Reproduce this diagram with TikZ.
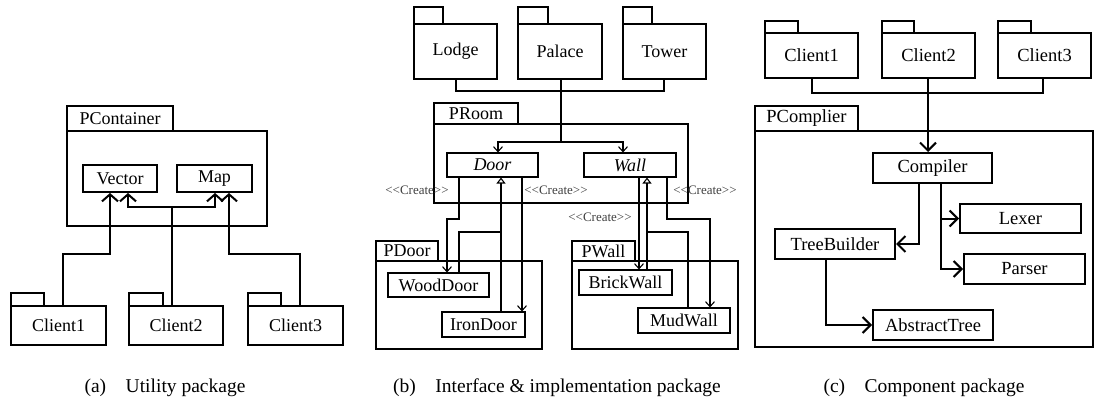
\documentclass[tikz,border=0pt]{standalone}
\usepackage{fontspec}
\setmainfont{Liberation Serif}
\usetikzlibrary{arrows.meta}
\newcommand\rbox[7][]{\node[#1, minimum width={#5-#3}, minimum height={#6-#4}] (#2) at ({(#3+#5)/2},{(#4+#6)/2}) {#7};}
\begin{document}
\begin{tikzpicture}[x=1pt,y=-1pt,
  abox/.style={draw, line width=2pt, inner sep=0pt, font=\fontsize{18}{20}\selectfont},
  bbox/.style={draw, line width=1.1pt, inner sep=0pt, font=\fontsize{18}{20}\selectfont},
  cbox/.style={draw, line width=2pt, inner sep=0pt, font=\fontsize{18.5}{20}\selectfont},
  athick/.style={line width=2pt},
  aarr/.style={line width=2pt, -{Straight Barb[length=7pt,width=16pt]}},
  bline/.style={line width=1.1pt},
  barr/.style={line width=1.1pt, -{Straight Barb[length=5pt,width=9pt]}},
  bgen/.style={line width=1.1pt, -{Triangle[open,length=6pt,width=9pt]}},
  carr/.style={line width=2pt, -{Straight Barb[length=8pt,width=16pt]}},
  create/.style={inner sep=0pt, text=black!75, font=\fontsize{13}{14}\selectfont},
  captext/.style={inner sep=0pt, anchor=base, font=\fontsize{19.5}{22}\selectfont}
]
\useasboundingbox (0,0) rectangle (1095,401);
% ---------------- (a) ----------------
\rbox[abox]{pcTab}{67}{106}{173}{131}{PContainer}
\rbox[abox]{pc}{67}{131}{267}{226}{}
\rbox[abox]{vector}{83}{165}{157}{192}{Vector}
\rbox[abox]{map}{177}{165}{252}{192}{Map}
\rbox[abox]{c1aTab}{11}{293}{44}{306}{}
\rbox[abox]{c1a}{11}{306}{106}{345}{Client1}
\rbox[abox]{c2aTab}{129}{293}{163}{306}{}
\rbox[abox]{c2a}{129}{306}{223}{345}{Client2}
\rbox[abox]{c3aTab}{248}{293}{281}{306}{}
\rbox[abox]{c3a}{248}{306}{343}{345}{Client3}
\draw[aarr] (63,0 |- c1a.north) |- (110,254) -- (110,0 |- vector.south);
\draw[aarr] (172,0 |- c2a.north) -- (172,207) -| (128,0 |- vector.south);
\draw[aarr] (172,207) -| (215,0 |- map.south);
\draw[aarr] (300,0 |- c3a.north) |- (229,254) -- (229,0 |- map.south);
% ---------------- (b) ----------------
\rbox[bbox]{lodgeTab}{414}{7}{443}{24}{}
\rbox[bbox]{lodge}{414}{24}{497}{79}{Lodge}
\rbox[bbox]{palaceTab}{518}{7}{548}{24}{}
\rbox[bbox]{palace}{518}{24}{602}{79}{Palace}
\rbox[bbox]{towerTab}{623}{7}{652}{24}{}
\rbox[bbox]{tower}{623}{24}{706}{79}{Tower}
\rbox[bbox]{proomTab}{434}{103}{518}{124}{PRoom}
\rbox[bbox]{proom}{434}{124}{688}{203}{}
\rbox[bbox]{door}{447}{153}{538}{177}{\itshape Door}
\rbox[bbox]{wall}{584}{153}{676}{177}{\itshape Wall}
\rbox[bbox]{pdoorTab}{376}{241}{438}{261}{PDoor}
\rbox[bbox]{pdoor}{376}{261}{542}{349}{}
\rbox[bbox]{wooddoor}{388}{273}{489}{297}{WoodDoor}
\rbox[bbox]{irondoor}{442}{312}{525}{337}{IronDoor}
\rbox[bbox]{pwallTab}{572}{241}{635}{261}{PWall}
\rbox[bbox]{pwall}{572}{261}{738}{349}{}
\rbox[bbox]{brickwall}{579}{270}{672}{295}{BrickWall}
\rbox[bbox]{mudwall}{638}{308}{730}{333}{MudWall}
\draw[bline] (456,0 |- lodge.south) |- (664,91) -- (664,0 |- tower.south);
\draw[bline] (561,0 |- palace.south) -- (561,142);
\draw[barr] (561,142) -| (498,0 |- door.north);
\draw[barr] (561,142) -| (623,0 |- wall.north);
\draw[barr] (459,0 |- door.south) |- (447,219) -- (447,0 |- wooddoor.north);
\draw[bline] (459,0 |- wooddoor.north) |- (501,232);
\draw[bgen] (501,0 |- irondoor.north) -- (501,0 |- door.south);
\draw[barr] (522,0 |- door.south) -- (522,0 |- irondoor.north);
\draw[barr] (639,0 |- wall.south) -- (639,0 |- brickwall.north);
\draw[bgen] (647,0 |- brickwall.north) -- (647,0 |- wall.south);
\draw[bline] (688,0 |- mudwall.north) |- (647,232);
\draw[barr] (667,0 |- wall.south) |- (710,219) -- (710,0 |- mudwall.north);
\node[create] (cr1) at (417,190) {<\kern0pt<Create>\kern0pt>};
\node[create] (cr2) at (556,190) {<\kern0pt<Create>\kern0pt>};
\node[create] (cr3) at (705,190) {<\kern0pt<Create>\kern0pt>};
\node[create] (cr4) at (600,217) {<\kern0pt<Create>\kern0pt>};
% ---------------- (c) ----------------
\rbox[cbox]{c1cTab}{765}{21}{798}{33}{}
\rbox[cbox]{c1c}{765}{33}{858}{78}{Client1}
\rbox[cbox]{c2cTab}{882}{21}{914}{33}{}
\rbox[cbox]{c2c}{882}{33}{975}{78}{Client2}
\rbox[cbox]{c3cTab}{998}{21}{1031}{33}{}
\rbox[cbox]{c3c}{998}{33}{1091}{78}{Client3}
\rbox[cbox]{pcompTab}{755}{106}{858}{131}{PComplier}
\rbox[cbox]{pcomp}{755}{131}{1093}{347}{}
\rbox[cbox]{compiler}{873}{153}{992}{183}{Compiler}
\rbox[cbox]{treebuilder}{775}{229}{895}{259}{TreeBuilder}
\rbox[cbox]{lexer}{960}{204}{1081}{233}{Lexer}
\rbox[cbox]{parser}{964}{254}{1085}{284}{Parser}
\rbox[cbox]{abstracttree}{873}{310}{993}{340}{AbstractTree}
\draw[athick] (812,0 |- c1c.south) |- (1043,93) -- (1043,0 |- c3c.south);
\draw[carr] (928,0 |- c2c.south) -- (928,0 |- compiler.north);
\draw[carr] (919,0 |- compiler.south) |- (treebuilder.east);
\draw[carr] (941,0 |- compiler.south) |- (parser.west);
\draw[carr] (941,0 |- lexer.west) -- (lexer.west);
\draw[carr] (826,0 |- treebuilder.south) |- (abstracttree.west);
% ---------------- captions ----------------
\node[captext] (capa) at (165,392) {(a)\hspace{1em}Utility package};
\node[captext] (capb) at (557,392) {(b)\hspace{1em}Interface \& implementation package};
\node[captext] (capc) at (924,392) {(c)\hspace{1em}Component package};
\end{tikzpicture}
\end{document}
